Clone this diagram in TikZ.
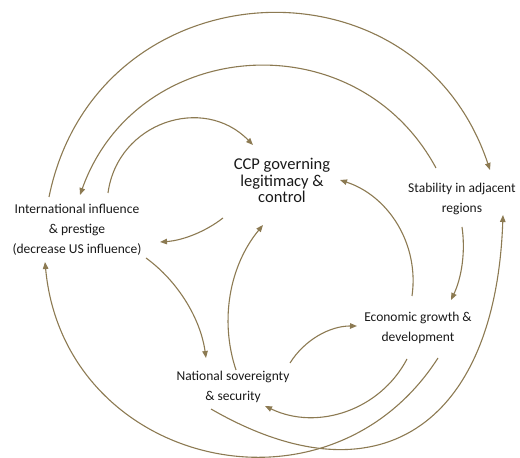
\documentclass[tikz,border=0pt]{standalone}
\usepackage{fontspec}
\setmainfont{Carlito}
\usetikzlibrary{arrows.meta}
\definecolor{linkcol}{RGB}{140,122,82}
\definecolor{inkcol}{RGB}{25,25,25}
\begin{document}
\begin{tikzpicture}[x=1pt,y=1pt,
  factor/.style={align=center,inner sep=0pt,text=inkcol,
    font=\fontsize{13.5}{20}\selectfont},
  mainfactor/.style={factor,font=\fontsize{16.5}{16.5}\selectfont},
  link/.style={draw=linkcol,line width=1.1pt,
    -{Triangle[length=7pt,width=5.5pt]}}]
\useasboundingbox (0,0) rectangle (520,458);

% factors
\node[mainfactor] (ccp)  at (282,277.5) {CCP governing\\legitimacy \&\\control};
\node[factor]     (intl) at (77,228)    {International influence\\\& prestige\\(decrease US influence)};
\node[factor]     (stab) at (462,259)   {Stability in adjacent\\regions};
\node[factor]     (econ) at (418,130.5) {Economic growth \&\\development};
\node[factor]     (nat)  at (233,71.5)  {National sovereignty\\\& security};

% outer loops over the top
\draw[link] ([shift={(-28,33)}]intl.center) to[bend left=75,looseness=1.36] ([shift={(28,29)}]stab.center);
\draw[link] ([shift={(-26,31)}]stab.center) to[bend right=66,looseness=1.21] ([shift={(3,35)}]intl.center);

% links around the CCP
\draw[link] ([shift={(31,37)}]intl.center) to[bend left=64,looseness=1.19] ([shift={(-29,35.5)}]ccp.center);
\draw[link] ([shift={(-59,-37.5)}]ccp.center) to[bend left=17,looseness=0.86] ([shift={(83,-12)}]intl.center);
\draw[link] ([shift={(69,-28)}]intl.center) to[bend left=23,looseness=0.87] ([shift={(-27,28.5)}]nat.center);
\draw[link] ([shift={(3,16.5)}]nat.center) to[bend left=29,looseness=0.91] ([shift={(-19,-44.5)}]ccp.center);
\draw[link] ([shift={(-6,31.5)}]econ.center) to[bend right=40,looseness=0.97] ([shift={(58,0.5)}]ccp.center);
\draw[link] ([shift={(0,-28)}]stab.center) to[bend left=17,looseness=0.86] ([shift={(33,27.5)}]econ.center);
\draw[link] ([shift={(57,23.5)}]nat.center) to[bend left=29,looseness=0.91] ([shift={(-61,1.5)}]econ.center);
\draw[link] ([shift={(-11,-31.5)}]econ.center) to[bend left=44,looseness=0.99] ([shift={(32,-19.5)}]nat.center);

% outer loops underneath
\draw[link] ([shift={(-22,-22.5)}]nat.center) to[out=-30,in=-92,out looseness=1.4,in looseness=1.55] ([shift={(41,-16)}]stab.center);
\draw[link] ([shift={(20,-30.5)}]econ.center) to[bend left=71,looseness=1.29] ([shift={(-32,-32)}]intl.center);
\end{tikzpicture}
\end{document}
